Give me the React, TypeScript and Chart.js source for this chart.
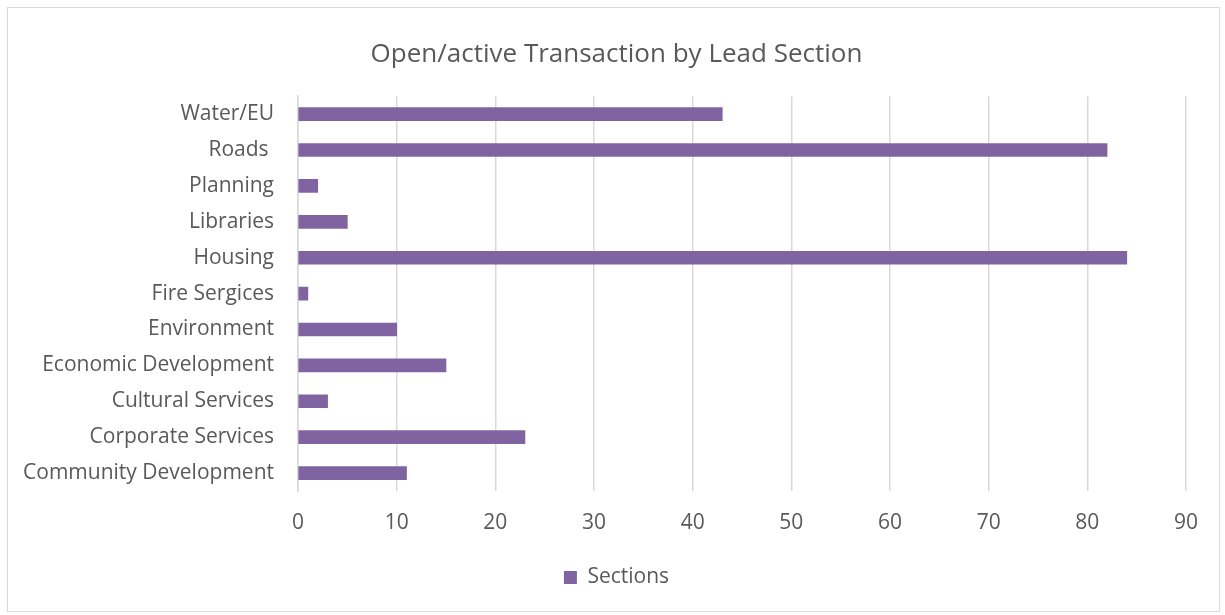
import React, { useEffect, useRef } from "react";
import { Chart, registerables } from "chart.js";

Chart.register(...registerables);

const categories = [
  "Water/EU",
  "Roads ",
  "Planning",
  "Libraries",
  "Housing",
  "Fire Sergices",
  "Environment",
  "Economic Development",
  "Cultural Services",
  "Corporate Services",
  "Community Development",
];
const sectionValues = [43, 82, 2, 5, 84, 1, 10, 15, 3, 23, 11];
const seriesName = "Sections";
const chartTitle = "Open/active Transaction by Lead Section";
const xMin = 0;
const xMax = 90;
const xStep = 10;

const FONT = "'Open Sans', 'Noto Sans', sans-serif";
const TEXT = "#595959";
const GRID = "#D9D9D9";
const BAR = "#8064A2";

export default function App() {
  const ref = useRef<HTMLCanvasElement | null>(null);
  useEffect(() => {
    if (!ref.current) return;
    const chart = new Chart(ref.current, {
      type: "bar",
      data: {
        labels: categories,
        datasets: [
          {
            label: seriesName,
            data: sectionValues,
            backgroundColor: BAR,
            borderWidth: 0,
            barThickness: 13,
            xAxisID: "x",
            yAxisID: "y",
          },
        ],
      },
      options: {
        indexAxis: "y",
        animation: false,
        responsive: false,
        maintainAspectRatio: false,
        layout: { padding: { left: 8, right: 0, top: 0, bottom: 17 } },
        plugins: {
          title: {
            display: true,
            text: chartTitle,
            color: TEXT,
            font: { family: FONT, size: 26, weight: "normal" },
            padding: { top: 39, bottom: 26 },
          },
          legend: {
            display: true,
            position: "bottom",
            labels: {
              color: TEXT,
              font: { family: FONT, size: 21 },
              boxWidth: 13,
              boxHeight: 13,
              padding: 10,
            },
          },
          tooltip: { enabled: false },
        },
        scales: {
          x: {
            min: xMin,
            max: xMax,
            ticks: {
              stepSize: xStep,
              color: TEXT,
              font: { family: FONT, size: 21 },
              padding: 19,
            },
            grid: { color: GRID, lineWidth: 1.5, drawTicks: false },
            border: { display: false },
            afterFit: (s: any) => {
              s.height = 66;
            },
          },
          y: {
            position: "left",
            ticks: {
              color: TEXT,
              font: { family: FONT, size: 21 },
              padding: 24,
            },
            grid: { display: false, drawTicks: false },
            border: { display: true, color: GRID, width: 1.5 },
            afterFit: (s: any) => {
              s.width = 290;
            },
          },
          yPad: {
            type: "linear",
            axis: "y",
            position: "right",
            display: true,
            ticks: { display: false },
            grid: { display: false, drawTicks: false },
            border: { display: false },
            afterFit: (s: any) => {
              s.width = 39;
            },
          },
        },
      },
    });
    return () => chart.destroy();
  }, []);
  return (
    <div style={{ position: "absolute", left: 0, top: 0, width: 1225, height: 615, background: "#fff" }}>
      <div
        style={{
          position: "absolute",
          left: 7,
          top: 7,
          width: 1213,
          height: 605,
          border: "1px solid #D9D9D9",
          boxSizing: "border-box",
        }}
      />
      <canvas ref={ref} width={1225} height={615} style={{ position: "absolute", left: 0, top: 0 }} />
    </div>
  );
}
